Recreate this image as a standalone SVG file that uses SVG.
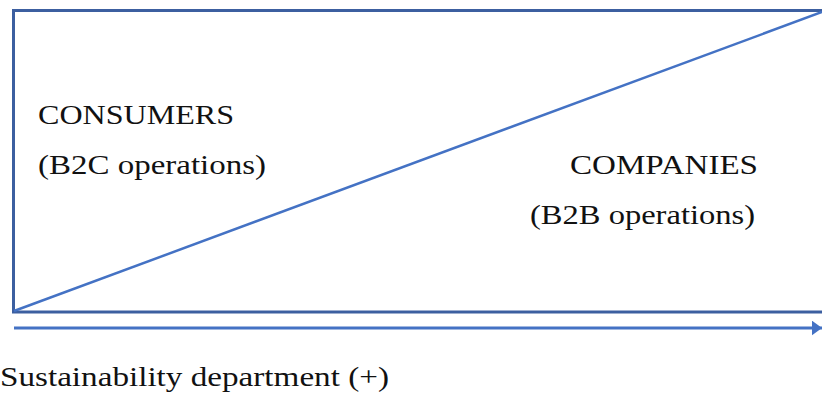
<svg xmlns="http://www.w3.org/2000/svg" width="822" height="394" viewBox="0 0 822 394">
<style>
.t{font-family:"Liberation Serif","DejaVu Serif",serif;font-size:27px;fill:#111;}
.box{fill:none;stroke:#3C5FA0;stroke-width:3;}
.diag{stroke:#4472C4;stroke-width:2.5;fill:none;}
.axis{stroke:#4472C4;stroke-width:3;fill:none;}
</style>
<defs>
<marker id="ah" viewBox="0 0 10 10" refX="10" refY="5" markerWidth="3.4" markerHeight="5" orient="auto" markerUnits="strokeWidth" preserveAspectRatio="none">
<path d="M0,0 L10,5 L0,10 Z" fill="#4472C4"/>
</marker>
</defs>
<g id="box"><rect class="box" x="13.5" y="10.5" width="812" height="301.5"/></g>
<g id="connectors">
<line class="diag" x1="14" y1="311" x2="822" y2="12"/>
<line class="axis" x1="14" y1="328" x2="822" y2="328" marker-end="url(#ah)"/>
</g>
<g id="consumers">
<text class="t" x="38" y="124" textLength="196" lengthAdjust="spacingAndGlyphs">CONSUMERS</text>
<text class="t" x="38" y="174" textLength="228" lengthAdjust="spacingAndGlyphs">(B2C operations)</text>
</g>
<g id="companies">
<text class="t" x="570" y="174" textLength="188" lengthAdjust="spacingAndGlyphs">COMPANIES</text>
<text class="t" x="530" y="224" textLength="225" lengthAdjust="spacingAndGlyphs">(B2B operations)</text>
</g>
<g id="axis-label">
<text class="t" x="0" y="386" textLength="389" lengthAdjust="spacingAndGlyphs">Sustainability department (+)</text>
</g>
</svg>
